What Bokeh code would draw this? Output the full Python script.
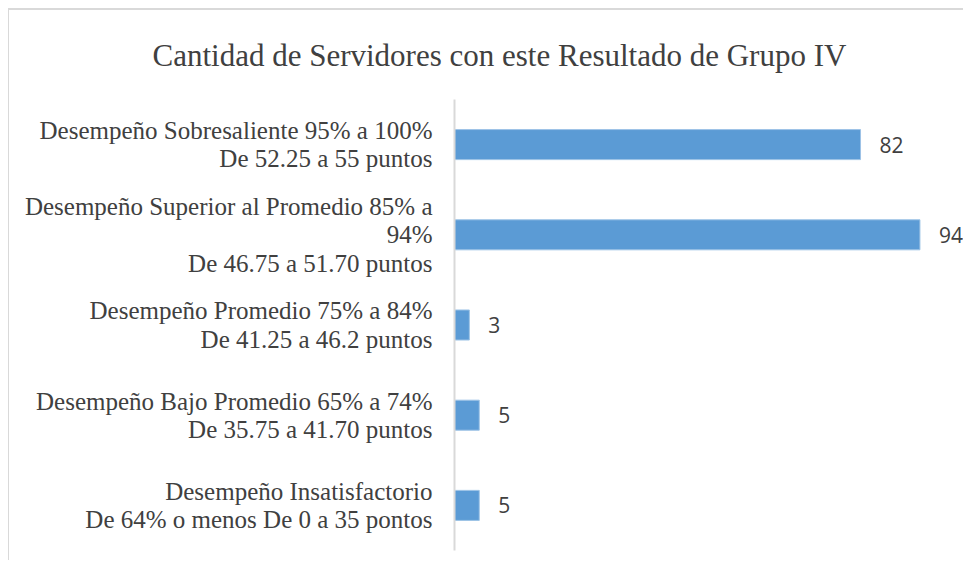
from bokeh.plotting import figure
from bokeh.models import FactorRange, Range1d, ColumnDataSource, LabelSet, Title
from bokeh.core.properties import value
from bokeh.embed import file_html
from bokeh.resources import INLINE

title_text = "Cantidad de Servidores con este  Resultado de Grupo IV"
categories = [
    "Desempeño Sobresaliente 95% a 100%\nDe 52.25 a 55 puntos",
    "Desempeño Superior al Promedio 85% a\n94%\nDe 46.75 a 51.70 puntos",
    "Desempeño Promedio 75% a 84%\nDe 41.25 a 46.2 puntos",
    "Desempeño Bajo Promedio 65% a 74%\nDe 35.75 a 41.70 puntos",
    "Desempeño Insatisfactorio\nDe 64% o menos De 0 a 35 pontos",
]
values = [82, 94, 3, 5, 5]
value_labels = [str(v) for v in values]

source = ColumnDataSource(data=dict(cat=categories, val=values, lab=value_labels))

p = figure(
    width=955, height=552,
    y_range=FactorRange(factors=list(reversed(categories))),
    x_range=Range1d(0, 103.0),
    output_backend="svg", toolbar_location=None,
    min_border_left=445, min_border_right=0, min_border_top=89, min_border_bottom=12,
)
p.styles = {"margin-left": "8px", "margin-top": "8px",
            "border-left": "1px solid #D9D9D9", "border-top": "2px solid #D9D9D9"}

p.hbar(y="cat", right="val", left=0, height=0.333, source=source,
       fill_color="#5B9BD5", line_color="#9DC3E6", line_width=1)

labels = LabelSet(x="val", y="cat", text="lab", source=source, x_offset=19,
                  text_align="left", text_baseline="middle",
                  text_font=value("Open Sans"), text_font_size=value("21px"),
                  text_color="#404040")
p.add_layout(labels)

p.title = Title(text=title_text, align="left", offset=-302, vertical_align="top",
                text_font="Liberation Serif", text_font_size="31px",
                text_font_style="normal", text_color="#404040", standoff=50)

p.xaxis.visible = False
p.xgrid.visible = False
p.ygrid.visible = False
p.outline_line_color = None

ya = p.yaxis[0]
ya.axis_line_color = "#D9D9D9"
ya.axis_line_width = 2
ya.major_tick_line_color = None
ya.minor_tick_line_color = None
ya.major_label_standoff = 16
ya.major_label_text_font = "Liberation Serif"
ya.major_label_text_font_size = "25px"
ya.major_label_text_line_height = 1.05
ya.major_label_text_color = "#404040"

open("out.html", "w").write(file_html(p, INLINE))
